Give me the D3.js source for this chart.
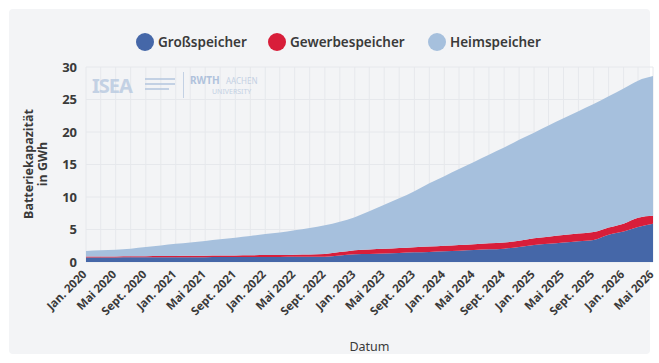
<!DOCTYPE html>
<html>
<head>
<meta charset="utf-8">
<script src="https://cdn.jsdelivr.net/npm/d3@7/dist/d3.min.js"></script>
<style>
  body { margin: 0; background: #fff; }
  svg { display: block; font-family: "Noto Sans", Lato, sans-serif; }
</style>
</head>
<body>
<div id="chart"></div>
<script>
// Monatswerte (alle 2 Monate), Jan. 2020 bis Mai 2026, in GWh
var dates = ['2020-01','2020-03','2020-05','2020-07','2020-09','2020-11',
             '2021-01','2021-03','2021-05','2021-07','2021-09','2021-11',
             '2022-01','2022-03','2022-05','2022-07','2022-09','2022-11',
             '2023-01','2023-03','2023-05','2023-07','2023-09','2023-11',
             '2024-01','2024-03','2024-05','2024-07','2024-09','2024-11',
             '2025-01','2025-03','2025-05','2025-07','2025-09','2025-11',
             '2026-01','2026-03','2026-05'];

var grossspeicher = [0.70,0.70,0.70,0.72,0.72,0.73,0.74,0.75,0.75,0.76,0.77,0.78,
                     0.78,0.78,0.80,0.80,0.82,1.00,1.20,1.25,1.30,1.40,1.50,1.55,
                     1.65,1.75,1.85,1.95,2.05,2.30,2.60,2.80,3.00,3.20,3.40,4.20,
                     4.70,5.40,5.90];

var gewerbespeicher = [0.15,0.15,0.16,0.17,0.18,0.19,0.20,0.21,0.22,0.23,0.24,0.26,
                       0.28,0.30,0.32,0.34,0.40,0.52,0.62,0.67,0.72,0.75,0.78,0.82,
                       0.85,0.88,0.90,0.92,0.95,0.98,1.05,1.10,1.15,1.18,1.20,1.10,
                       1.20,1.40,1.20];

var heimspeicher = [0.85,0.95,1.04,1.16,1.40,1.63,1.86,2.04,2.28,2.51,2.74,2.96,
                    3.24,3.47,3.78,4.11,4.43,4.68,5.08,5.88,6.78,7.65,8.62,9.73,
                    10.70,11.67,12.65,13.63,14.60,15.52,16.25,17.10,17.95,18.82,19.70,20.20,
                    20.80,21.10,21.50];

var seriesNames  = ['Großspeicher', 'Gewerbespeicher', 'Heimspeicher'];
var seriesColors = ['#4567a8', '#d81e3a', '#a6c0dd'];
var yTicks       = [0, 5, 10, 15, 20, 25, 30];
var monthNames   = ['Jan.', 'Feb.', 'März', 'Apr.', 'Mai', 'Juni', 'Juli', 'Aug.', 'Sept.', 'Okt.', 'Nov.', 'Dez.'];

var width  = 659,
    height = 363,
    margin = { top: 67, right: 6, bottom: 101, left: 86 };

var parse = d3.timeParse('%Y-%m');

var rows = dates.map(function(d, i) {
  return {
    date: parse(d),
    'Großspeicher': grossspeicher[i],
    'Gewerbespeicher': gewerbespeicher[i],
    'Heimspeicher': heimspeicher[i]
  };
});

var svg = d3.select('#chart')
            .append('svg')
            .attr('width', width)
            .attr('height', height);

// card background
svg.append('rect')
   .attr('x', 9).attr('y', 9)
   .attr('width', width - 18).attr('height', height - 18)
   .attr('rx', 4)
   .attr('fill', '#f3f4f6');

var x = d3.scaleTime()
          .domain([parse('2020-01'), parse('2026-05')])
          .range([margin.left, width - margin.right]);

var y = d3.scaleLinear()
          .domain([0, 30])
          .range([height - margin.bottom, margin.top]);

// grid
var xTickDates = d3.timeMonth.every(4).range(parse('2020-01'), d3.timeMonth.offset(parse('2026-05'), 1));

svg.append('g')
   .selectAll('line.v')
   .data(d3.timeMonth.every(2).range(parse('2020-01'), d3.timeMonth.offset(parse('2026-05'), 1)))
   .enter()
   .append('line')
   .attr('x1', function(d) { return x(d); })
   .attr('x2', function(d) { return x(d); })
   .attr('y1', y(30))
   .attr('y2', y(0))
   .attr('stroke', '#e6e8ec')
   .attr('stroke-width', 1);

svg.append('g')
   .selectAll('line.h')
   .data(yTicks)
   .enter()
   .append('line')
   .attr('x1', margin.left)
   .attr('x2', width - margin.right)
   .attr('y1', function(d) { return y(d); })
   .attr('y2', function(d) { return y(d); })
   .attr('stroke', '#e6e8ec')
   .attr('stroke-width', 1);

// watermark logos
var logo = svg.append('g').attr('fill', '#b8c9e0').attr('opacity', 0.8);
logo.append('text').attr('x', 92).attr('y', 93)
    .attr('font-size', 20).attr('font-weight', 700).attr('letter-spacing', -1)
    .text('ISEA');
logo.append('rect').attr('x', 145).attr('y', 78).attr('width', 30).attr('height', 2);
logo.append('rect').attr('x', 145).attr('y', 83).attr('width', 30).attr('height', 2);
logo.append('rect').attr('x', 145).attr('y', 88).attr('width', 24).attr('height', 2);
logo.append('rect').attr('x', 183).attr('y', 72).attr('width', 1).attr('height', 26);
logo.append('text').attr('x', 190).attr('y', 84)
    .attr('font-size', 10).attr('font-weight', 700).attr('fill', '#9fb6d6')
    .text('RWTH');
logo.append('text').attr('x', 226).attr('y', 84)
    .attr('font-size', 8).text('AACHEN');
logo.append('text').attr('x', 212).attr('y', 94)
    .attr('font-size', 7).text('UNIVERSITY');

// stacked areas
var stack = d3.stack().keys(seriesNames);
var layers = stack(rows);

var area = d3.area()
             .x(function(d) { return x(d.data.date); })
             .y0(function(d) { return y(d[0]); })
             .y1(function(d) { return y(d[1]); })
             .curve(d3.curveMonotoneX);

svg.append('g')
   .selectAll('path')
   .data(layers)
   .enter()
   .append('path')
   .attr('d', area)
   .attr('fill', function(d, i) { return seriesColors[i]; });

// axes labels
var yAxis = d3.axisLeft(y).tickValues(yTicks).tickSize(0).tickPadding(9);
var gy = svg.append('g')
            .attr('transform', 'translate(' + margin.left + ',0)')
            .call(yAxis);
gy.select('.domain').remove();
gy.selectAll('text')
  .attr('font-size', 13).attr('font-weight', 700).attr('fill', '#3a3a3a')
  .attr('font-family', '"Noto Sans", sans-serif');

var xAxis = d3.axisBottom(x)
              .tickValues(xTickDates)
              .tickSize(0)
              .tickFormat(function(d) {
                return monthNames[d.getMonth()] + ' ' + d.getFullYear();
              });
var gx = svg.append('g')
            .attr('transform', 'translate(0,' + (height - margin.bottom) + ')')
            .call(xAxis);
gx.select('.domain').remove();
gx.selectAll('text')
  .attr('font-size', 11.5).attr('font-weight', 700).attr('fill', '#3a3a3a')
  .attr('font-family', '"Noto Sans", sans-serif')
  .attr('text-anchor', 'end')
  .attr('dy', null).attr('y', 0)
  .attr('transform', 'translate(1,13) rotate(-45)');

// axis titles
svg.append('text')
   .attr('x', (margin.left + width - margin.right) / 2)
   .attr('y', 351)
   .attr('text-anchor', 'middle')
   .attr('font-size', 12.5).attr('fill', '#3a3a3a')
   .text('Datum');

var yTitle = svg.append('text')
   .attr('transform', 'translate(36,164) rotate(-90)')
   .attr('text-anchor', 'middle')
   .attr('font-size', 12.5).attr('font-weight', 700).attr('fill', '#3a3a3a');
yTitle.append('tspan').attr('x', 0).attr('dy', -3).text('Batteriekapazität');
yTitle.append('tspan').attr('x', 0).attr('dy', 14).text('in GWh');

// legend
var legendX = [145, 277, 437];
var legend = svg.append('g')
                .selectAll('g')
                .data(seriesNames)
                .enter()
                .append('g')
                .attr('transform', function(d, i) { return 'translate(' + legendX[i] + ',42)'; });
legend.append('circle')
      .attr('r', 9)
      .attr('fill', function(d, i) { return seriesColors[i]; });
legend.append('text')
      .attr('x', 13).attr('dy', '0.35em')
      .attr('font-size', 13.5).attr('font-weight', 600).attr('fill', '#3a3a3a')
      .text(function(d) { return d; });
</script>
</body>
</html>
